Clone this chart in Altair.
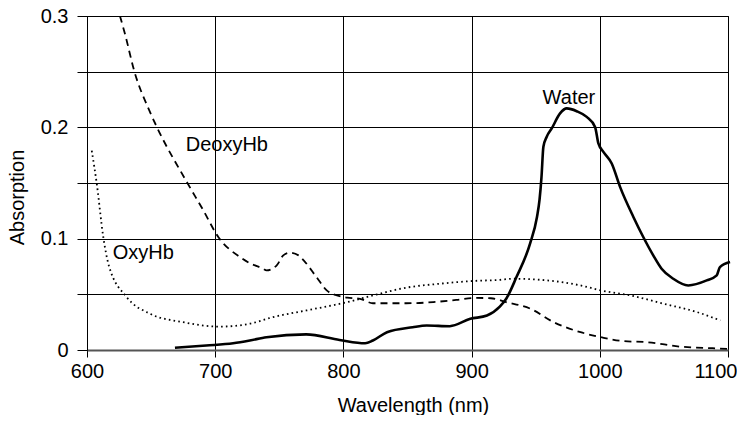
import altair as alt
import pandas as pd

# DeoxyHb (dashed)
deoxy_nm = [625.7, 629.6, 637, 648.5, 654.6, 677.8, 690.7, 702.4, 719.3, 727, 737.5, 740, 748, 753.1,
            758, 765, 769, 779, 787, 795, 803, 813, 823, 849, 870, 888, 903, 915, 927, 946, 964,
            985, 1001, 1018, 1037, 1063, 1088, 1100]
deoxy_val = [0.300, 0.284, 0.25, 0.2154, 0.2, 0.151, 0.1255, 0.1015, 0.0835, 0.078, 0.073, 0.0715,
             0.076, 0.085, 0.0874, 0.085, 0.0805, 0.0655, 0.0535, 0.049, 0.047, 0.046, 0.042, 0.042,
             0.043, 0.045, 0.0468, 0.0465, 0.043, 0.037, 0.025, 0.016, 0.0115, 0.008, 0.007, 0.003,
             0.0016, 0.001]

# OxyHb (dotted)
oxy_nm = [603.7, 607.6, 612.7, 617, 631, 649, 675, 703.7, 727, 745, 771, 803, 823, 849, 875, 901,
          922, 932, 959, 985, 1001, 1024, 1050, 1076, 1094]
oxy_val = [0.179, 0.1495, 0.1015, 0.076, 0.0475, 0.0326, 0.025, 0.021, 0.0236, 0.0295, 0.0355,
           0.043, 0.049, 0.056, 0.0595, 0.062, 0.063, 0.064, 0.0625, 0.058, 0.0535, 0.049, 0.0415,
           0.034, 0.0265]

# Water (solid)
water_nm = [668.6, 693, 714, 727, 740, 771, 797, 817, 823, 834, 854, 865, 883, 899, 912, 922, 927,
            935, 945.6, 951, 953, 954.5, 956, 958.6, 962.5, 969, 974.2, 982, 989.8, 996.3, 998.9,
            1002.8, 1009.3, 1015.8, 1026.2, 1033.9, 1041.7, 1048.2, 1057.3, 1069, 1083.4, 1091.2,
            1093.7, 1101.6]
water_val = [0.002, 0.004, 0.006, 0.0085, 0.0115, 0.014, 0.009, 0.006, 0.0085, 0.016, 0.0205, 0.022,
             0.0214, 0.028, 0.031, 0.039, 0.046, 0.0655, 0.0955, 0.1195, 0.135, 0.155, 0.1825,
             0.1915, 0.199, 0.2125, 0.217, 0.2145, 0.2094, 0.2004, 0.1855, 0.178, 0.1675, 0.1465,
             0.1195, 0.1015, 0.085, 0.073, 0.064, 0.058, 0.0625, 0.067, 0.0745, 0.079]

# Labels
label_text = ["DeoxyHb", "OxyHb", "Water"]
label_nm = [677, 620, 955.4]
label_val = [0.1788, 0.082, 0.2208]

y_ticks = [0, 0.05, 0.1, 0.15, 0.2, 0.25, 0.3]
x_ticks = [600, 700, 800, 900, 1000, 1100]

FONT = "Liberation Sans"

xscale = alt.Scale(domain=[600, 1100], nice=False, zero=False)
yscale = alt.Scale(domain=[0, 0.3], nice=False)

xaxis = alt.Axis(values=x_ticks, format="d", title="Wavelength (nm)", grid=True, gridColor="black",
                 gridWidth=1, gridOpacity=1, domainColor="#555", domainWidth=2,
                 tickColor="black", tickSize=7, labelPadding=4, labelFont=FONT,
                 labelFontSize=20, labelColor="black", titleFont=FONT, titleFontSize=20,
                 titleFontWeight="normal", titleColor="black", titleX=326, titleY=61,
                 titleBaseline="alphabetic", titleAlign="center", labelFlush=False,
                 labelAlign={"condition": {"test": "datum.value == 1100", "value": "right"},
                             "value": "center"},
                 labelOffset={"condition": {"test": "datum.value == 1100", "value": 9},
                              "value": 0})
yaxis = alt.Axis(values=y_ticks, title="Absorption", grid=True, gridColor="black",
                 gridWidth=1, gridOpacity=1, domainColor="black", domainWidth=1,
                 tickColor="black", tickSize=10, labelPadding=9, labelFont=FONT,
                 labelFontSize=20, labelColor="black", titleFont=FONT, titleFontSize=20,
                 titleFontWeight="normal", titleColor="black", titleX=-64, titleY=181,
                 titleAngle=-90, titleBaseline="alphabetic", titleAlign="center",
                 labelFlush=False,
                 labelExpr="abs(datum.value*10 - round(datum.value*10)) < 0.001 ? toString(round(datum.value*10)/10) : ''")

deoxy_df = pd.DataFrame({"nm": deoxy_nm, "val": deoxy_val})
oxy_df = pd.DataFrame({"nm": oxy_nm, "val": oxy_val})
water_df = pd.DataFrame({"nm": water_nm, "val": water_val})
label_df = pd.DataFrame({"nm": label_nm, "val": label_val, "text": label_text})

base_x = alt.X("nm:Q", scale=xscale, axis=xaxis)
base_y = alt.Y("val:Q", scale=yscale, axis=yaxis)

deoxy = alt.Chart(deoxy_df).mark_line(color="black", strokeWidth=1.8, strokeDash=[7, 5],
                                      interpolate="monotone", clip=True).encode(x=base_x, y=base_y)
oxy = alt.Chart(oxy_df).mark_line(color="black", strokeWidth=1.8, strokeDash=[1.6, 3.2],
                                  interpolate="monotone", clip=True).encode(
    x=alt.X("nm:Q", scale=xscale), y=alt.Y("val:Q", scale=yscale))
water = alt.Chart(water_df).mark_line(color="black", strokeWidth=2.6, interpolate="monotone",
                                      clip=False).encode(
    x=alt.X("nm:Q", scale=xscale), y=alt.Y("val:Q", scale=yscale))
labels = alt.Chart(label_df).mark_text(font=FONT, fontSize=20, color="black", align="left",
                                       baseline="alphabetic").encode(
    x=alt.X("nm:Q", scale=xscale), y=alt.Y("val:Q", scale=yscale), text="text:N")

chart = alt.layer(deoxy, oxy, water, labels).properties(
    width=641, height=334,
    autosize=alt.AutoSizeParams(type="none"),
    padding={"left": 79, "top": 8, "right": 9, "bottom": 65},
    background="white",
).configure_view(stroke="black", strokeWidth=1)

chart.save("out.html", embed_options={"renderer": "svg", "actions": False})
